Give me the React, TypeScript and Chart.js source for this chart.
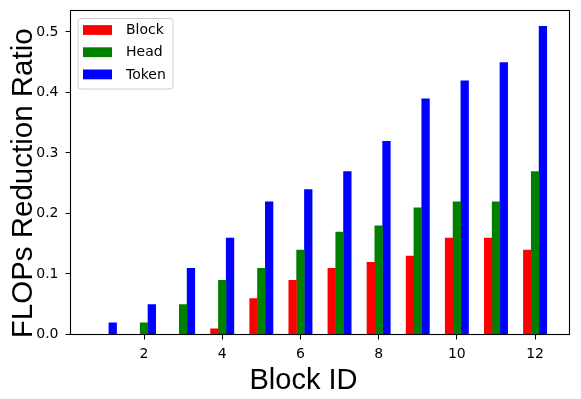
import React, { useEffect, useRef } from "react";
import { Chart, registerables } from "chart.js";

Chart.register(...registerables);

const blockIds = [1, 2, 3, 4, 5, 6, 7, 8, 9, 10, 11, 12];
const blockValues = [0, 0, 0, 0.01, 0.06, 0.09, 0.11, 0.12, 0.13, 0.16, 0.16, 0.14];
const headValues = [0, 0.02, 0.05, 0.09, 0.11, 0.14, 0.17, 0.18, 0.21, 0.22, 0.22, 0.27];
const tokenValues = [0.02, 0.05, 0.11, 0.16, 0.22, 0.24, 0.27, 0.32, 0.39, 0.42, 0.45, 0.51];
const seriesNames = ["Block", "Head", "Token"];
const seriesColors = ["#ff0000", "#008000", "#0000ff"];
const xTicks = [2, 4, 6, 8, 10, 12];
const yTicks = [0, 0.1, 0.2, 0.3, 0.4, 0.5];
const xTitle = "Block ID";
const yTitle = "FLOPs Reduction Ratio";

const decorPlugin = {
  id: "decor",
  afterDraw(chart: any) {
    const { ctx, chartArea: a } = chart;
    ctx.save();
    // axes frame (all four spines)
    ctx.strokeStyle = "#000";
    ctx.lineWidth = 1.1;
    ctx.strokeRect(a.left, a.top, a.right - a.left, a.bottom - a.top);

    // legend
    const lx = a.left + 7.5;
    const ly = a.top + 8;
    const lw = 95;
    const lh = 70.5;
    ctx.beginPath();
    if ((ctx as any).roundRect) {
      (ctx as any).roundRect(lx, ly, lw, lh, 3);
    } else {
      ctx.rect(lx, ly, lw, lh);
    }
    ctx.fillStyle = "rgba(255,255,255,0.8)";
    ctx.fill();
    ctx.strokeStyle = "#cccccc";
    ctx.lineWidth = 1;
    ctx.stroke();
    ctx.font = '14px "DejaVu Sans"';
    ctx.textAlign = "left";
    ctx.textBaseline = "middle";
    chart.data.datasets.forEach((ds: any, i: number) => {
      const cy = a.top + 19.5 + i * 22.2;
      ctx.fillStyle = ds.backgroundColor;
      ctx.fillRect(a.left + 12.5, cy - 4.9, 29, 9.8);
      ctx.fillStyle = "#000";
      ctx.fillText(ds.label, a.left + 55.5, cy + 0.5);
    });

    // axis titles
    ctx.fillStyle = "#000";
    ctx.textBaseline = "alphabetic";
    ctx.textAlign = "center";
    ctx.font = '29px "Liberation Sans"';
    ctx.fillText(xTitle, 303.5, 389.3);
    ctx.translate(32.3, 183.3);
    ctx.rotate(-Math.PI / 2);
    ctx.font = '29.5px "Liberation Sans"';
    ctx.fillText(yTitle, 0, 0);
    ctx.restore();
  },
};

export default function App() {
  const ref = useRef<HTMLCanvasElement | null>(null);

  useEffect(() => {
    document.body.style.margin = "0";
    const canvas = ref.current;
    if (!canvas) return;
    const series = [blockValues, headValues, tokenValues];
    const chart = new Chart(canvas, {
      type: "bar",
      data: {
        datasets: series.map((vals, i) => ({
          label: seriesNames[i],
          data: blockIds.map((id, j) => ({ x: id, y: vals[j] })),
          backgroundColor: seriesColors[i],
          borderWidth: 0,
          categoryPercentage: 0.6,
          barPercentage: 1.06,
        })),
      },
      options: {
        responsive: false,
        maintainAspectRatio: false,
        animation: false,
        devicePixelRatio: 1,
        layout: { padding: { top: 10.5, right: 11.5, left: 0, bottom: 0 } },
        plugins: {
          legend: { display: false },
          tooltip: { enabled: false },
          title: { display: false },
        },
        scales: {
          x: {
            type: "linear",
            min: 0.12,
            max: 12.88,
            offset: false,
            grid: {
              display: true,
              drawOnChartArea: false,
              drawTicks: true,
              tickLength: 5,
              color: "#000",
              tickColor: "#000",
              offset: false,
            },
            border: { display: false },
            ticks: {
              font: { family: "DejaVu Sans", size: 14 },
              color: "#000",
              padding: 6,
              maxRotation: 0,
              autoSkip: false,
              callback: (v: any) => String(v),
            },
            afterBuildTicks: (s: any) => {
              s.ticks = xTicks.map((v) => ({ value: v }));
            },
            afterFit: (s: any) => {
              s.height = 64.5;
              s.paddingLeft = 0;
              s.paddingRight = 0;
            },
          },
          y: {
            type: "linear",
            min: 0,
            max: 0.5355,
            grid: {
              display: true,
              drawOnChartArea: false,
              drawTicks: true,
              tickLength: 5,
              color: "#000",
              tickColor: "#000",
            },
            border: { display: false },
            ticks: {
              font: { family: "DejaVu Sans", size: 14 },
              color: "#000",
              padding: 7,
              callback: (v: any) => Number(v).toFixed(1),
            },
            afterBuildTicks: (s: any) => {
              s.ticks = yTicks.map((v) => ({ value: v }));
            },
            afterFit: (s: any) => {
              s.width = 70.5;
              s.paddingTop = 0;
              s.paddingBottom = 0;
            },
          },
        },
      },
      plugins: [decorPlugin],
    } as any);
    return () => chart.destroy();
  }, []);

  return (
    <div style={{ position: "absolute", left: 0, top: 0, width: 581, height: 399 }}>
      <canvas ref={ref} width={581} height={399} style={{ display: "block" }} />
    </div>
  );
}
